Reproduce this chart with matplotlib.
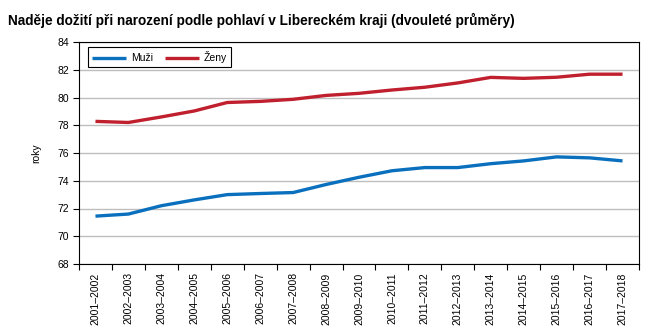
import matplotlib
matplotlib.use("Agg")
import matplotlib.pyplot as plt
from matplotlib.ticker import FixedLocator, NullFormatter

plt.rcParams['font.family'] = ['Liberation Sans', 'DejaVu Sans']

periods = ["2001–2002", "2002–2003", "2003–2004", "2004–2005", "2005–2006",
           "2006–2007", "2007–2008", "2008–2009", "2009–2010", "2010–2011",
           "2011–2012", "2012–2013", "2013–2014", "2014–2015", "2015–2016",
           "2016–2017", "2017–2018"]
muzi = [71.45, 71.6, 72.2, 72.62, 73.0, 73.08, 73.15, 73.73, 74.25, 74.72,
        74.95, 74.95, 75.23, 75.43, 75.72, 75.65, 75.43]
zeny = [78.28, 78.2, 78.6, 79.03, 79.64, 79.72, 79.87, 80.15, 80.3, 80.54,
        80.74, 81.05, 81.45, 81.38, 81.46, 81.68, 81.68]

fig = plt.figure(figsize=(6.72, 3.35), dpi=100)
ax = fig.add_axes([79/672, 1 - 264/335, 560/672, 222/335])

x = list(range(len(periods)))
ax.plot(x, muzi, color="#0A70BE", lw=2.4, label="Muži", solid_capstyle="butt")
ax.plot(x, zeny, color="#C0202E", lw=2.4, label="Ženy", solid_capstyle="butt")

ax.set_xlim(-0.5, len(periods) - 0.5)
ax.set_ylim(68, 84)
ax.set_yticks(range(68, 85, 2))
ax.yaxis.grid(True, color="#BEBEBE", lw=1)
ax.set_axisbelow(True)

ax.set_xticks(x)
ax.set_xticklabels(periods, rotation=90, fontsize=7.5)
ax.tick_params(axis="x", which="major", length=0, pad=6)
ax.xaxis.set_minor_locator(FixedLocator([i - 0.5 for i in range(len(periods) + 1)]))
ax.xaxis.set_minor_formatter(NullFormatter())
ax.tick_params(axis="x", which="minor", length=4, width=0.8, color="black")
ax.tick_params(axis="y", length=4, width=0.8, labelsize=7.5, pad=3)

for s in ax.spines.values():
    s.set_color("black")
    s.set_linewidth(0.8)

ax.set_ylabel("roky", fontsize=7.5, labelpad=12)

leg = ax.legend(loc="upper left", ncol=2, fontsize=7.5, frameon=True,
                fancybox=False, edgecolor="black", framealpha=1,
                bbox_to_anchor=(9/560, 1 - 5/222), borderaxespad=0,
                handlelength=3.2, columnspacing=1.2, handletextpad=0.5,
                borderpad=0.4)
leg.get_frame().set_linewidth(0.8)

fig.text(8/672, 1 - 20/335, "Naděje dožití při narození podle pohlaví v Libereckém kraji (dvouleté průměry)",
         fontsize=9.8, fontweight="bold", va="center", ha="left")

fig.savefig("out.png", dpi=100)
